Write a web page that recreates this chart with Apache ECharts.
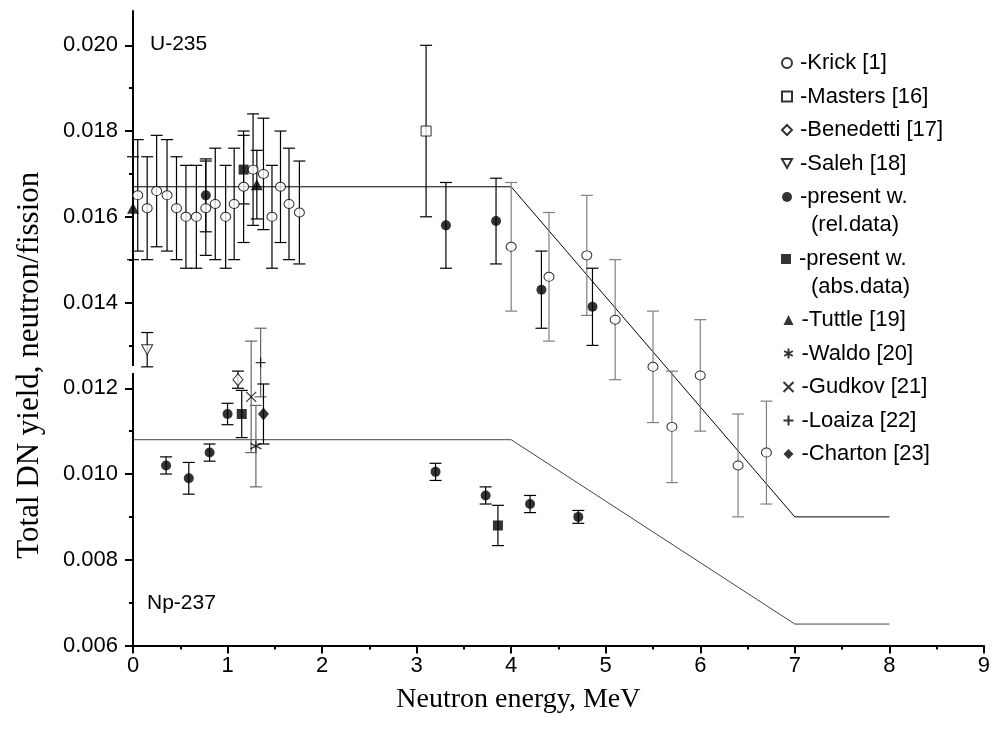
<!DOCTYPE html>
<html>
<head>
<meta charset="utf-8">
<script src="https://cdn.jsdelivr.net/npm/echarts@6/dist/echarts.min.js"></script>
<style>
  html, body { margin: 0; padding: 0; background: #fff; }
  #chart { width: 993px; height: 747px; }
</style>
</head>
<body>
<div id="chart"></div>
<script>
// neutron energy (MeV), DN yield, error
var krickX = [0.05, 0.15, 0.25, 0.36, 0.46, 0.56, 0.67, 0.77, 0.87, 0.98, 1.07, 1.17, 1.27, 1.38, 1.47, 1.56, 1.65, 1.76,
              4.0, 4.4, 4.8, 5.1, 5.5, 5.7, 6.0, 6.4, 6.7];
var krickY = [0.0165, 0.0162, 0.0166, 0.0165, 0.0162, 0.0160, 0.0160, 0.0162, 0.0163, 0.0160, 0.0163, 0.0167, 0.0171, 0.0170, 0.0160, 0.0167, 0.0163, 0.0161,
              0.0153, 0.0146, 0.0151, 0.0136, 0.0125, 0.0111, 0.0123, 0.0102, 0.0105];
var krickErr = [0.0013, 0.0012, 0.0013, 0.0013, 0.0012, 0.0012, 0.0012, 0.0011, 0.0013, 0.0012, 0.0013, 0.0013, 0.0013, 0.0013, 0.0012, 0.0013, 0.0013, 0.0012,
                0.0015, 0.0015, 0.0014, 0.0014, 0.0013, 0.0013, 0.0013, 0.0012, 0.0012];

var mastersX = [3.1], mastersY = [0.0180], mastersErr = [0.0020];
var benedettiX = [1.11], benedettiY = [0.0122], benedettiErr = [0.0002];
var salehX = [0.15], salehY = [0.0129], salehErr = [0.0004];

var relUX = [0.77, 3.31, 3.84, 4.32, 4.86];
var relUY = [0.0165, 0.0158, 0.0159, 0.0143, 0.0139];
var relUErr = [0.00085, 0.001, 0.001, 0.0009, 0.0009];
var relNpX = [0.35, 0.59, 0.81, 1.0, 3.2, 3.73, 4.2, 4.71];
var relNpY = [0.0102, 0.0099, 0.0105, 0.0114, 0.01005, 0.0095, 0.0093, 0.0090];
var relNpErr = [0.0002, 0.00037, 0.0002, 0.00025, 0.0002, 0.0002, 0.0002, 0.00015];

var absX = [1.17, 1.15, 3.86];
var absY = [0.0171, 0.0114, 0.0088];
var absErr = [0.0008, 0.00055, 0.00047];

var tuttleX = [0.0, 1.31], tuttleY = [0.0162, 0.01675], tuttleErr = [0.0012, 0.0008];
var waldoX = [1.30], waldoY = [0.01065], waldoErr = [0.00095];
var gudkovX = [1.25], gudkovY = [0.0118], gudkovErr = [0.0013];
var loaizaX = [1.35], loaizaY = [0.0126], loaizaErr = [0.0008];
var chartonX = [1.38], chartonY = [0.0114], chartonErr = [0.0007];

// evaluation lines
var uLineX = [0, 4, 7, 8], uLineY = [0.0167, 0.0167, 0.009, 0.009];
var npLineX = [0, 4, 7, 8], npLineY = [0.0108, 0.0108, 0.0065, 0.0065];

var yMajor = [0.006, 0.008, 0.010, 0.012, 0.014, 0.016, 0.018, 0.020];
var yMinor = [0.007, 0.009, 0.011, 0.013, 0.015, 0.017, 0.019];

var sans = 'Liberation Sans';
var serif = 'Liberation Serif';
var labelSize = 22, legendSize = 22;

function pts(xs, ys, es) {
  return xs.map(function (x, i) { return [x, ys[i], es ? es[i] : 0]; });
}

function errBars(data, color, grayAbove) {
  return {
    type: 'custom',
    name: 'err',
    data: data,
    z: 2,
    silent: true,
    encode: { x: 0, y: 1 },
    renderItem: function (params, api) {
      var x = api.value(0), y = api.value(1), e = api.value(2);
      var top = api.coord([x, y + e]);
      var bot = api.coord([x, y - e]);
      var c = (grayAbove != null && x > grayAbove) ? '#808080' : color;
      var w = 6;
      return {
        type: 'group',
        children: [
          { type: 'line', shape: { x1: top[0], y1: top[1], x2: bot[0], y2: bot[1] }, style: { stroke: c, lineWidth: 1.2 } },
          { type: 'line', shape: { x1: top[0] - w, y1: top[1], x2: top[0] + w, y2: top[1] }, style: { stroke: c, lineWidth: 1.2 } },
          { type: 'line', shape: { x1: bot[0] - w, y1: bot[1], x2: bot[0] + w, y2: bot[1] }, style: { stroke: c, lineWidth: 1.2 } }
        ]
      };
    }
  };
}

function marks(name, data, symbol, size, filled, extra) {
  var s = {
    type: 'scatter',
    name: name,
    data: data,
    symbol: symbol,
    symbolSize: size,
    z: 5,
    itemStyle: filled
      ? { color: '#000', borderColor: '#000', borderWidth: 0 }
      : { color: '#fff', borderColor: '#000', borderWidth: 1 }
  };
  if (extra) Object.keys(extra).forEach(function (k) { s[k] = extra[k]; });
  return s;
}

var strokeOnly = { color: 'none', borderColor: '#000', borderWidth: 1.2 };

function legendBlock(top, names) {
  return {
    orient: 'vertical', left: 781, top: top, padding: 0,
    itemWidth: 10, itemHeight: 10, itemGap: 11.5,
    textStyle: { fontFamily: sans, fontSize: legendSize, color: '#000', lineHeight: 22, padding: [0, 0, 0, 3] },
    data: names
  };
}

var chart = echarts.init(document.getElementById('chart'));
chart.setOption({
  animation: false,
  backgroundColor: '#fff',
  grid: { left: 133, right: 6.5, top: 11, bottom: 101.5 },
  xAxis: {
    type: 'value', min: 0, max: 9, interval: 1,
    name: 'Neutron energy, MeV', nameLocation: 'middle', nameGap: 40,
    nameTextStyle: { fontFamily: serif, fontSize: 28, color: '#000', padding: [0, 80, 0, 0] },
    axisLine: { lineStyle: { color: '#000', width: 2 } },
    axisTick: { length: 8, lineStyle: { color: '#000', width: 2 } },
    minorTick: { show: true, splitNumber: 2, length: 4, lineStyle: { color: '#000', width: 2 } },
    axisLabel: { fontFamily: sans, fontSize: labelSize, color: '#000', margin: 9 },
    splitLine: { show: false }
  },
  yAxis: [{
    type: 'value', min: 0.006, max: 0.0208, interval: 0.002,
    name: 'Total DN yield, neutron/fission', nameLocation: 'middle', nameGap: 88,
    nameTextStyle: { fontFamily: serif, fontSize: 31, color: '#000', padding: [0, 74, 0, 0] },
    axisLine: { show: true, lineStyle: { color: '#000', width: 2 } },
    axisTick: { show: true, length: 8, lineStyle: { color: '#000', width: 2 }, customValues: yMajor },
    axisLabel: {
      customValues: yMajor, fontFamily: sans, fontSize: labelSize, color: '#000', margin: 15,
      formatter: function (v) { return v.toFixed(3); }
    },
    splitLine: { show: false }
  }, {
    type: 'value', min: 0.006, max: 0.0208, position: 'left',
    axisLine: { show: false },
    axisTick: { show: true, length: 4, lineStyle: { color: '#000', width: 2 }, customValues: yMinor },
    axisLabel: { show: false },
    splitLine: { show: false }
  }],
  legend: [
    legendBlock(52, ['-Krick [1]', '-Masters [16]', '-Benedetti [17]', '-Saleh [18]', '-present w.']),
    legendBlock(248, ['-present w. ']),
    legendBlock(309, ['-Tuttle [19]', '-Waldo [20]', '-Gudkov [21]', '-Loaiza [22]', '-Charton [23]'])
  ],
  graphic: [
    { type: 'rect', left: 127, top: 366, shape: { width: 12, height: 7 }, style: { fill: '#fff' }, z: 100 },
    { type: 'text', left: 150, top: 34, style: { text: 'U-235', fontFamily: sans, fontSize: 21, fill: '#000' } },
    { type: 'text', left: 147, top: 593, style: { text: 'Np-237', fontFamily: sans, fontSize: 21, fill: '#000' } },
    { type: 'text', left: 811, top: 214, style: { text: '(rel.data)', fontFamily: sans, fontSize: legendSize, fill: '#000' } },
    { type: 'text', left: 811, top: 276, style: { text: '(abs.data)', fontFamily: sans, fontSize: legendSize, fill: '#000' } }
  ],
  series: [
    { type: 'line', name: 'U-235 eval', data: pts(uLineX, uLineY), symbol: 'none', silent: true, z: 1,
      lineStyle: { color: '#000', width: 1 } },
    { type: 'line', name: 'Np-237 eval', data: pts(npLineX, npLineY), symbol: 'none', silent: true, z: 1,
      lineStyle: { color: '#444', width: 1 } },

    errBars(pts(krickX, krickY, krickErr), '#000', 3),
    errBars(pts(mastersX, mastersY, mastersErr), '#000'),
    errBars(pts(benedettiX, benedettiY, benedettiErr), '#000'),
    errBars(pts(salehX, salehY, salehErr), '#000'),
    errBars(pts(relUX, relUY, relUErr).concat(pts(relNpX, relNpY, relNpErr)), '#000'),
    errBars(pts(absX, absY, absErr), '#000'),
    errBars(pts(tuttleX, tuttleY, tuttleErr), '#000'),
    errBars(pts(waldoX, waldoY, waldoErr), '#666'),
    errBars(pts(gudkovX, gudkovY, gudkovErr), '#666'),
    errBars(pts(loaizaX, loaizaY, loaizaErr), '#666'),
    errBars(pts(chartonX, chartonY, chartonErr), '#000'),

    marks('-Krick [1]', pts(krickX, krickY), 'circle', [10, 9], false),
    marks('-Masters [16]', pts(mastersX, mastersY), 'rect', 10, false),
    marks('-Benedetti [17]', pts(benedettiX, benedettiY), 'diamond', [10, 12], false),
    marks('-Saleh [18]', pts(salehX, salehY), 'path://M0,0L10,0L5,9Z', [11, 10], false),
    marks('-present w.', pts(relUX, relUY).concat(pts(relNpX, relNpY)), 'circle', 10, true),
    marks('-present w. ', pts(absX, absY), 'rect', 10, true),
    marks('-Tuttle [19]', pts(tuttleX, tuttleY), 'triangle', [12, 11], true),
    marks('-Waldo [20]', pts(waldoX, waldoY), 'path://M5,0L5,10M0.7,2.5L9.3,7.5M0.7,7.5L9.3,2.5', 11, false, { itemStyle: strokeOnly }),
    marks('-Gudkov [21]', pts(gudkovX, gudkovY), 'path://M0,0L10,10M10,0L0,10', 10, false, { itemStyle: strokeOnly }),
    marks('-Loaiza [22]', pts(loaizaX, loaizaY), 'path://M5,0L5,10M0,5L10,5', 10, false, { itemStyle: strokeOnly }),
    marks('-Charton [23]', pts(chartonX, chartonY), 'diamond', [11, 13], true)
  ]
});
</script>
</body>
</html>
